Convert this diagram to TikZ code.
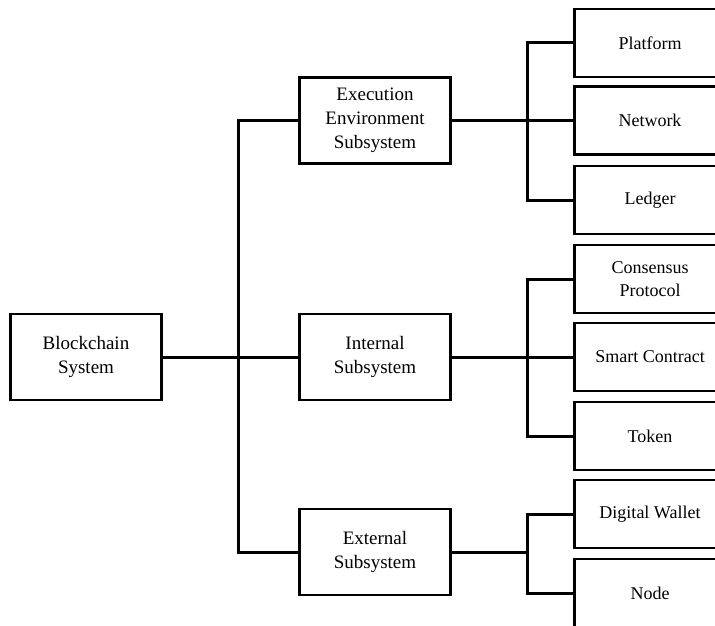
\documentclass[tikz,border=0pt]{standalone}
\usepackage{fontspec}
\setmainfont{Liberation Serif}
\begin{document}
\begin{tikzpicture}[x=1pt,y=-1pt,
  box/.style={draw=black,line width=2.8pt,minimum height=86pt,minimum width=151pt,
    align=center,inner sep=0pt,font=\fontsize{19}{24}\selectfont},
  leaf/.style={draw=black,line width=2.8pt,minimum height=68pt,minimum width=151pt,
    align=center,inner sep=0pt,font=\fontsize{18}{23}\selectfont},
  link/.style={line width=3pt,line cap=rect}]
\useasboundingbox (0,0) rectangle (715,626);
\begin{scope}
\clip (0,0) rectangle (715,626);
% root and first level
\node[box] (sys) at (86,357) {Blockchain\\System};
\node[box] (exe) at (375,120.5) {Execution\\Environment\\Subsystem};
\node[box] (int) at (375,357) {Internal\\Subsystem};
\node[box] (ext) at (375,552) {External\\Subsystem};
% leaves
\node[leaf] (plat) at (650,43) {Platform};
\node[leaf] (net) at (650,120.5) {Network};
\node[leaf] (led) at (650,200) {Ledger};
\node[leaf] (cons) at (650,279) {Consensus\\Protocol};
\node[leaf] (smart) at (650,357) {Smart Contract};
\node[leaf] (tok) at (650,436) {Token};
\node[leaf] (wal) at (650,514) {Digital Wallet};
\node[leaf] (nd) at (650,593) {Node};
% bus coordinates
\coordinate (t) at (238,0);
\coordinate (b) at (527,0);
% trunk from root
\draw[link] (sys.east) -- (int.west);
\draw[link] (exe.west) -| (t |- sys.east) |- (ext.west);
% execution branch
\draw[link] (exe.east) -- (net.west);
\draw[link] (plat.west) -| (b |- net.west) |- (led.west);
% internal branch
\draw[link] (int.east) -- (smart.west);
\draw[link] (cons.west) -| (b |- smart.west) |- (tok.west);
% external branch
\draw[link] (ext.east) -- (b |- ext.east);
\draw[link] (wal.west) -| (b |- ext.east) |- (nd.west);
\end{scope}
\end{tikzpicture}
\end{document}
